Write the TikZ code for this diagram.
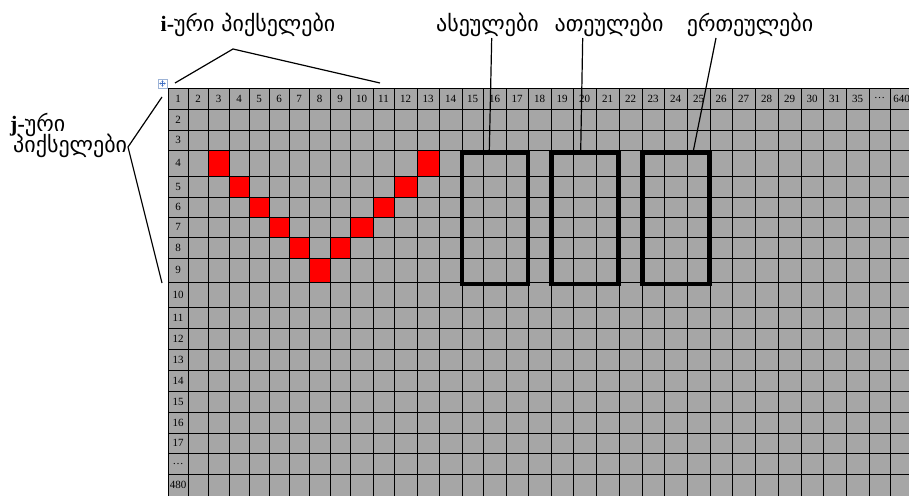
\documentclass[tikz,border=0pt]{standalone}
\usepackage{fontspec}
\setmainfont{Liberation Serif}
\newfontfamily\geo{DejaVu Sans}
\usetikzlibrary{calc,arrows.meta}
\definecolor{cellgray}{HTML}{A6A6A6}
\definecolor{handleblue}{HTML}{3F6FC4}
\definecolor{handleedge}{HTML}{9DB3D6}
\def\colx{168,188,208,229,249,269,289,309,330,350,373,394,417,439,462,483,506,528,551,573,596,619,642,664,687,710,732,755,778,801,823,846,869,890,913}
\def\rowy{88,109,130,150,176,197,217,237,258,282,307,328,349,370,391,412,433,453,474,496}
\begin{document}
\begin{tikzpicture}[x=1pt,y=-1pt,
  gridline/.style={black,line width=0.8pt},
  numlab/.style={font=\fontsize{11}{11}\selectfont, inner sep=0pt},
  geolab/.style={font=\geo\fontsize{22}{26}\selectfont, inner sep=0pt, anchor=base},
  pixel/.style={fill=red},
  digitbox/.style={draw=black,line width=4.5pt},
  leader/.style={black,line width=1.2pt}]
\useasboundingbox (0,0) rectangle (909,495);
\clip (0,0) rectangle (909,495);
% coordinates of the grid lines
\foreach \x [count=\i] in \colx {\coordinate (X\i) at (\x,0);}
\foreach \y [count=\i] in \rowy {\coordinate (Y\i) at (0,\y);}
% background of the table
\fill[cellgray] (X1 |- Y1) rectangle (X35 |- Y20);
% red pixels
\foreach \c/\r in {3/4,4/5,5/6,6/7,7/8,8/9,9/8,10/7,11/6,12/5,13/4}{
  \pgfmathtruncatemacro\cc{\c+1}\pgfmathtruncatemacro\rr{\r+1}
  \fill[pixel] (X\c |- Y\r) rectangle (X\cc |- Y\rr);
}
% grid
\foreach \y in \rowy {\draw[gridline] (168,\y) -- (913,\y);}
\foreach \x in \colx {\draw[gridline] (\x,88) -- (\x,496);}
% column labels
\foreach \lab [count=\i] in {1,2,3,4,5,6,7,8,9,10,11,12,13,14,15,16,17,18,19,20,21,22,23,24,25,26,27,28,29,30,31,35,\dots,640}{
  \pgfmathtruncatemacro\j{\i+1}
  \node[numlab] (h\i) at ($(X\i)!0.5!(X\j)+(0,98.5)$) {\lab};
}
% row labels
\foreach \lab [count=\i from 2] in {2,3,4,5,6,7,8,9,10,11,12,13,14,15,16,17,\dots,480}{
  \pgfmathtruncatemacro\j{\i+1}
  \node[numlab] (r\i) at ($(Y\i)!0.5!(Y\j)+(178,0)$) {\lab};
}
% digit boxes
\draw[digitbox] (462,153) rectangle (528,284);
\draw[digitbox] (551.5,153) rectangle (618.5,284);
\draw[digitbox] (642.3,153) rectangle (709.5,284);
% table handle
\node[draw=handleedge, fill=white, minimum size=9pt, inner sep=0pt, line width=0.6pt] (handle) at (162.5,83.5) {};
\draw[handleblue, line width=0.7pt, {Stealth[length=1.6pt,width=2pt]}-{Stealth[length=1.6pt,width=2pt]}] ($(handle.center)+(-3.2,0)$) -- ($(handle.center)+(3.2,0)$);
\draw[handleblue, line width=0.7pt, {Stealth[length=1.6pt,width=2pt]}-{Stealth[length=1.6pt,width=2pt]}] ($(handle.center)+(0,-3.2)$) -- ($(handle.center)+(0,3.2)$);
% labels
\node[geolab] (ilab) at (248,32) {{\rmfamily\bfseries i-}ური პიქსელები};
\node[geolab, anchor=base west] (jlab1) at (10,131) {{\rmfamily\bfseries j-}ური};
\node[geolab, anchor=base west] (jlab2) at (13,152) {პიქსელები};
\node[geolab] (hund) at (487.5,32) {ასეულები};
\node[geolab] (tens) at (609,32) {ათეულები};
\node[geolab] (unit) at (750,32) {ერთეულები};
% leaders
\coordinate (ipk) at (233,49); \coordinate (ia) at (175,83); \coordinate (ib) at (380,83);
\draw[leader] (ia) -- (ipk) -- (ib);
\coordinate (jpk) at (128,147); \coordinate (ja) at (162,97); \coordinate (jb) at (162,283);
\draw[leader] (ja) -- (jpk) -- (jb);
\coordinate (hs) at (491.7,38); \coordinate (he) at (489.3,151);
\coordinate (ts) at (582.7,38); \coordinate (te) at (580.7,151);
\coordinate (us) at (716,38);   \coordinate (ue) at (693.3,151);
\draw[leader] (hs) -- (he);
\draw[leader] (ts) -- (te);
\draw[leader] (us) -- (ue);
\end{tikzpicture}
\end{document}
